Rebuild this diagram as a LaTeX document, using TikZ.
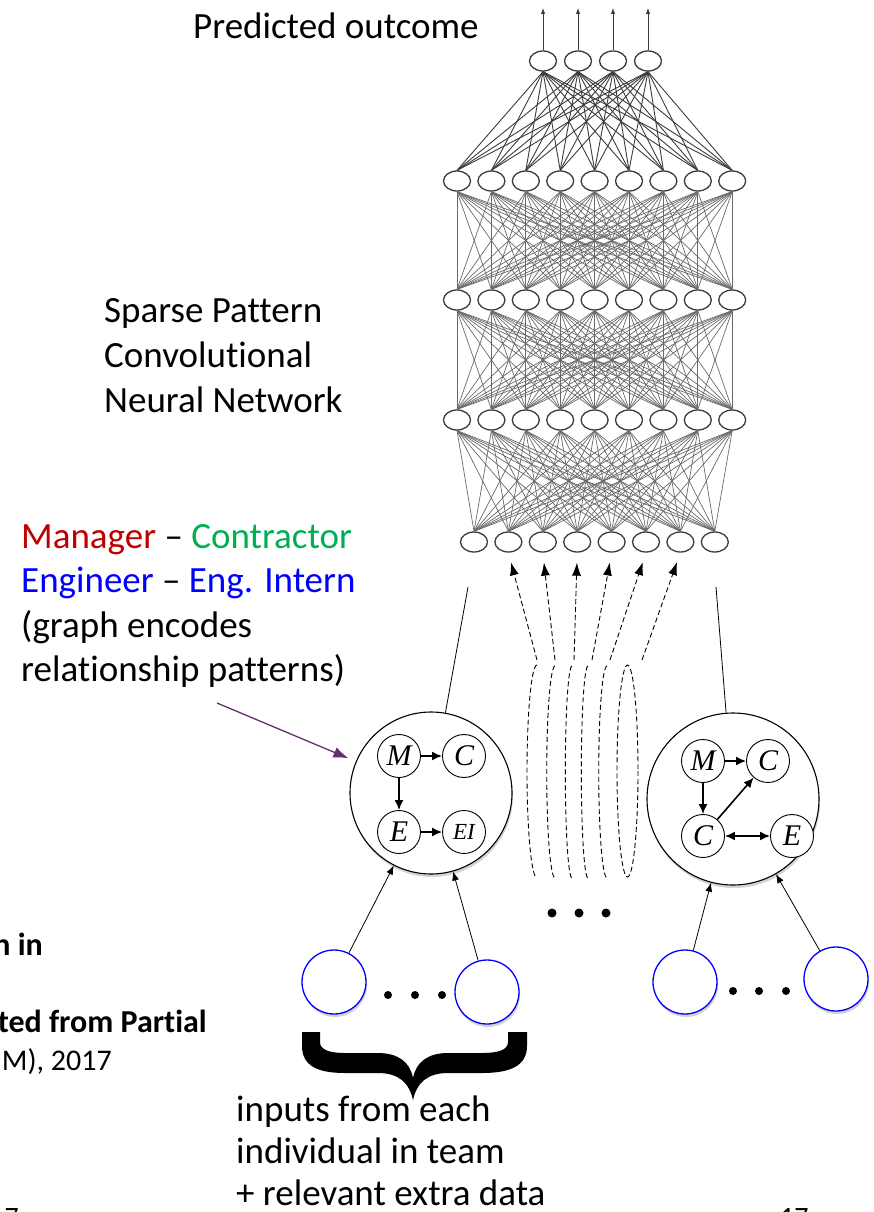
\documentclass[tikz,border=0pt]{standalone}
\usepackage{fontspec}
\setmainfont{Carlito}[Ligatures={TeX,NoCommon}]
\newfontfamily\gfont{Liberation Serif}
\usetikzlibrary{shapes.geometric,arrows.meta,shadows}

\definecolor{mgr}{RGB}{192,0,0}
\definecolor{ctr}{RGB}{0,176,80}
\definecolor{eng}{RGB}{0,0,255}
\definecolor{ptr}{RGB}{100,45,110}
\definecolor{netline}{RGB}{105,105,105}
\definecolor{netdark}{RGB}{60,60,60}

\begin{document}
\begin{tikzpicture}[x=1pt,y=-1pt,
  unit/.style={ellipse, draw=netdark, line width=1.3pt, fill=white,
    minimum width=27pt, minimum height=20pt, inner sep=0pt},
  wire/.style={netline, line width=0.7pt},
  topwire/.style={netdark, line width=0.9pt},
  outarrow/.style={netdark, line width=0.9pt, -{Latex[length=6pt,width=4.5pt]}},
  big/.style={circle, draw=black, line width=1.1pt, fill=white, inner sep=0pt,
    drop shadow={shadow xshift=1pt, shadow yshift=-3pt, opacity=0.35}},
  gnode/.style={circle, draw=black, line width=0.9pt, fill=white,
    minimum size=43pt, inner sep=0pt, font=\gfont\itshape\fontsize{30}{30}\selectfont},
  garrow/.style={line width=1.6pt, -{Latex[length=10pt,width=9pt]}},
  gboth/.style={line width=1.6pt, {Latex[length=10pt,width=9pt]}-{Latex[length=10pt,width=9pt]}},
  person/.style={circle, draw=eng, line width=1.3pt, fill=white,
    minimum size=64pt, inner sep=0pt,
    drop shadow={shadow xshift=1pt, shadow yshift=-3pt, opacity=0.35}},
  feed/.style={line width=0.8pt, -{Latex[length=9pt,width=7pt]}},
  plate/.style={dash pattern=on 5pt off 3pt, line width=0.9pt},
  dasharrow/.style={plate, -{Latex[length=13pt,width=9pt]}},
  dot/.style={circle, fill=black, minimum size=9pt, inner sep=0pt},
  label/.style={font=\fontsize{37}{45}\selectfont, inner sep=0pt, anchor=base west},
  note/.style={font=\bfseries\fontsize{32}{38}\selectfont, inner sep=0pt, anchor=base east},
  pagenum/.style={font=\fontsize{28}{34}\selectfont, inner sep=0pt},
]
\useasboundingbox (0,0) rectangle (873,1212);
\clip (0,0) rectangle (873,1212);

% ---------- neural network layers ----------
\foreach \i in {1,...,4} \node[unit] (a\i) at ({508+35*\i},61) {};
\foreach \i in {1,...,9} {
  \node[unit] (b\i) at ({422.6+34.4*\i},181) {};
  \node[unit] (c\i) at ({422.6+34.4*\i},300) {};
  \node[unit] (d\i) at ({422.6+34.4*\i},420) {};
}
\foreach \i in {1,...,8} \node[unit] (e\i) at ({439.6+34.4*\i},542) {};

% outputs
\foreach \i in {1,...,4} {
  \coordinate (o\i) at ({508+35*\i},8);
  \draw[outarrow] (a\i.north) -- (o\i);
}
% connections between layers
\foreach \i in {1,...,4} \foreach \j in {1,...,9}
  \draw[topwire] (a\i.south) -- (b\j.north);
\foreach \i in {1,...,9} \foreach \j in {1,...,9} {
  \draw[wire] (b\i.south) -- (c\j.north);
  \draw[wire] (c\i.south) -- (d\j.north);
}
\foreach \i in {1,...,9} \foreach \j in {1,...,8}
  \draw[wire] (d\i.south) -- (e\j.north);

% ---------- labels ----------
\node[label] (title) at (193,39) {Predicted outcome};
\node[label] (sp1) at (104,322) {Sparse Pattern};
\node[label] (sp2) at (104,367) {Convolutional};
\node[label] (sp3) at (104,412) {Neural Network};
\node[label] (r1) at (21,548) {\textcolor{mgr}{Manager} – \textcolor{ctr}{Contractor}};
\node[label] (r2) at (21,592.5) {\textcolor{eng}{Engineer} – \textcolor{eng}{Eng. Intern}};
\node[label] (r3) at (21,637) {(graph encodes};
\node[label] (r4) at (21,681.5) {relationship patterns)};

% ---------- relationship graphs ----------
\node[big, minimum size=162pt] (gL) at (431,793) {};
\node[big, minimum size=172pt] (gR) at (733,799) {};

\node[gnode] (lM) at (399,756) {M};
\node[gnode] (lC) at (464,756) {C};
\node[gnode] (lE) at (399,832) {E};
\node[gnode, font=\gfont\itshape\fontsize{23}{23}\selectfont] (lEI) at (464,832) {EI};
\draw[garrow] (lM) -- (lC);
\draw[garrow] (lM) -- (lE);
\draw[garrow] (lE) -- (lEI);

\node[gnode] (rM) at (703,761) {M};
\node[gnode] (rC) at (768,761) {C};
\node[gnode] (rC2) at (703,836) {C};
\node[gnode] (rE) at (792,836) {E};
\draw[garrow] (rM) -- (rC);
\draw[garrow] (rM) -- (rC2);
\draw[garrow] (rC2) -- (rC);
\draw[gboth] (rC2) -- (rE);

% links from graphs up to the input layer
\coordinate (tL) at (468,587);
\coordinate (tR) at (716,587);
\draw[line width=0.8pt] (gL) -- (tL);
\draw[line width=0.8pt] (gR) -- (tR);

% pointer from the caption
\coordinate (pS) at (217,703);
\draw[ptr, line width=1.3pt, -{Latex[length=15pt,width=11pt]}, shorten >=8pt] (pS) -- (gL);

% ---------- stacked graph plates ----------
\draw[plate] (537,665) arc[start angle=270, end angle=90, x radius=10, y radius=106.5];
\draw[plate] (555,666) arc[start angle=270, end angle=90, x radius=8.3, y radius=106];
\draw[plate] (572,666) arc[start angle=270, end angle=90, x radius=6.7, y radius=106];
\draw[plate] (588,666) arc[start angle=270, end angle=90, x radius=6.7, y radius=106];
\draw[plate] (607,666) arc[start angle=270, end angle=90, x radius=8.3, y radius=106];
\draw[plate] (627.5,771) ellipse[x radius=10.5, y radius=106];

\coordinate (s1) at (537,660);
\coordinate (s2) at (555,660);
\coordinate (s3) at (574,660);
\coordinate (s4) at (592,660);
\coordinate (s5) at (610,660);
\coordinate (s6) at (642,660);
\foreach \k [evaluate=\k as \t using int(\k+1)] in {1,...,6}
  \draw[dasharrow, shorten >=10pt] (s\k) -- (e\t.south);

\node[dot] (m1) at (552,913) {};
\node[dot] (m2) at (579,913) {};
\node[dot] (m3) at (606,913) {};

% ---------- individual inputs ----------
\node[person] (pL1) at (334,982) {};
\node[person] (pL2) at (487,992) {};
\node[person] (pR1) at (685,982) {};
\node[person] (pR2) at (836,979) {};
\draw[feed] (pL1) -- (gL);
\draw[feed] (pL2) -- (gL);
\draw[feed] (pR1) -- (gR);
\draw[feed] (pR2) -- (gR);

\node[dot, minimum size=8pt] (dl1) at (388,995) {};
\node[dot, minimum size=8pt] (dl2) at (415,995) {};
\node[dot, minimum size=8pt] (dl3) at (442,995) {};
\node[dot, minimum size=8pt] (dr1) at (733,991) {};
\node[dot, minimum size=8pt] (dr2) at (759,991) {};
\node[dot, minimum size=8pt] (dr3) at (786,991) {};

% brace under the first team
\fill (302,1032) -- (302,1046) .. controls (302,1066) and (318,1073) .. (345,1073)
  -- (378,1073) .. controls (398,1073) and (409,1082) .. (413,1100)
  .. controls (417,1082) and (428,1073) .. (448,1073)
  -- (482,1073) .. controls (510,1073) and (527,1066) .. (527,1046)
  -- (527,1032) -- (508,1032) -- (508,1042) .. controls (508,1050) and (498,1053) .. (482,1053)
  -- (448,1053) .. controls (428,1053) and (416,1062) .. (413,1078)
  .. controls (410,1062) and (398,1053) .. (378,1053)
  -- (345,1053) .. controls (330,1053) and (320,1050) .. (320,1042)
  -- (320,1032) -- cycle;

\node[label] (in1) at (236,1121) {inputs from each};
\node[label] (in2) at (236,1163) {individual in team};
\node[label] (in3) at (236,1205) {+ relevant extra data};

% ---------- cut-off citation and page numbers ----------
\node[note] (c1) at (43,955) {n in};
\node[note] (c2) at (207,1032) {ted from Partial};
\node[note, font=\fontsize{30}{38}\selectfont] (c3) at (112,1070) {M), 2017};
\node[pagenum, anchor=base east] (pn1) at (19,1226) {17};
\node[pagenum, anchor=base west] (pn2) at (780,1226) {17};
\end{tikzpicture}
\end{document}
